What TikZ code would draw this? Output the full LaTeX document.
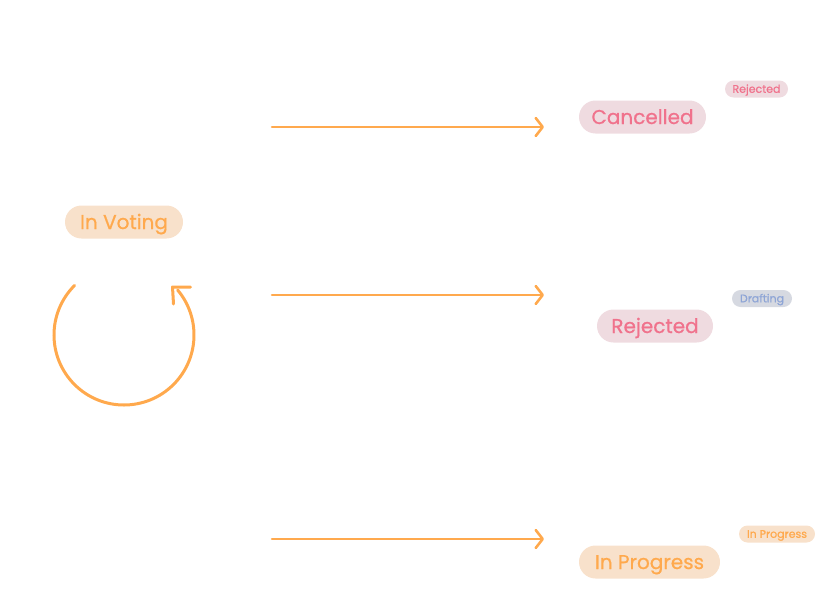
\documentclass[tikz,border=0pt]{standalone}
\usepackage{fontspec}
\setmainfont{Poppins}[FakeBold=0.7]
\usetikzlibrary{arrows.meta}
\definecolor{flow}{HTML}{FFA94D}
\definecolor{orangefill}{HTML}{F8E1CB}
\definecolor{orangetext}{HTML}{FFA94D}
\definecolor{pinkfill}{HTML}{EFDBE0}
\definecolor{pinktext}{HTML}{F0728C}
\definecolor{greyfill}{HTML}{D6D9E1}
\definecolor{bluetext}{HTML}{8EA5D6}
\tikzset{
  pill/.style={rounded corners=16.5pt, minimum height=33pt, inner sep=0pt,
    text height=14pt, text depth=0pt,
    font=\fontsize{20}{22}\selectfont},
  badge/.style={rounded corners=8.5pt, minimum height=17pt, inner sep=0pt,
    text height=7.6pt, text depth=0pt,
    font=\fontsize{11}{12}\selectfont},
  flowarrow/.style={draw=flow, line width=2.6pt, line cap=round,
    -{Straight Barb[length=7pt, width=18pt, line width=2.6pt, round]}},
}
\begin{document}
\begin{tikzpicture}[x=1pt, y=-1pt]
\useasboundingbox (0,0) rectangle (819,605);

% status pills
\node[pill, fill=orangefill, text=orangetext, minimum width=118pt] (voting) at (124,222) {In Voting};
\node[pill, fill=pinkfill, text=pinktext, minimum width=127pt] (cancelled) at (642.5,117) {Cancelled};
\node[pill, fill=pinkfill, text=pinktext, minimum width=116pt] (rejected) at (655,326) {Rejected};
\node[pill, fill=orangefill, text=orangetext, minimum width=141pt] (progress) at (649.5,562) {In Progress};

% small tags
\node[badge, fill=pinkfill, text=pinktext, minimum width=63pt] (tagrej) at (756.5,89) {Rejected};
\node[badge, fill=greyfill, text=bluetext, minimum width=60pt] (tagdraft) at (762,298.5) {Drafting};
\node[badge, fill=orangefill, text=orangetext, minimum width=76pt] (tagprog) at (777,534) {In Progress};

% transition arrows
\coordinate (a1s) at (272,127); \coordinate (a1e) at (544,127);
\coordinate (a2s) at (272,295); \coordinate (a2e) at (544,295);
\coordinate (a3s) at (272,539); \coordinate (a3e) at (544,539);
\draw[flowarrow] (a1s) -- (a1e);
\draw[flowarrow] (a2s) -- (a2e);
\draw[flowarrow] (a3s) -- (a3e);

% loop arrow below the voting pill
\coordinate (loopc) at (124,335);
\draw[draw=flow, line width=3pt, line cap=round]
  ([shift={(135:70pt)}]loopc) arc[start angle=135, end angle=400, radius=70pt];
\coordinate (tip) at (172.5,287);
\draw[draw=flow, line width=3pt, line cap=round, line join=round]
  (190.5,287) -- (tip) -- (173.5,304);
\end{tikzpicture}
\end{document}
